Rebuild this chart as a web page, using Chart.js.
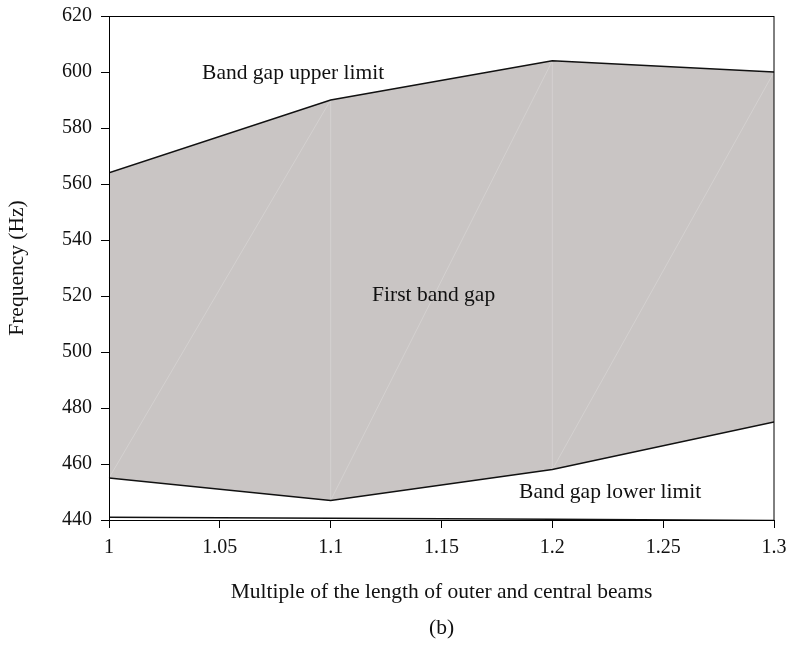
<!DOCTYPE html>
<html>
<head>
<meta charset="utf-8">
<script src="https://cdn.jsdelivr.net/npm/chart.js@4/dist/chart.umd.min.js"></script>
<style>
  html, body { margin: 0; padding: 0; background: #fff; }
  #wrap { width: 787px; height: 645px; position: relative; }
</style>
</head>
<body>
<div id="wrap"><canvas id="bandChart"></canvas></div>
<script>
// data
const lengthMultiple = [1, 1.1, 1.2, 1.3];
const upperLimit = [564, 590, 604, 600];
const lowerLimit = [455, 447, 458, 475];
const bottomCurve = [441, 440.6, 440.3, 439.8];
const xTicks = [1, 1.05, 1.1, 1.15, 1.2, 1.25, 1.3];
const yTicks = [440, 460, 480, 500, 520, 540, 560, 580, 600, 620];

const FONT = "'Liberation Serif', 'Times New Roman', serif";
const fill = "#c9c5c4";

const pts = (ys) => lengthMultiple.map((x, i) => ({ x: x, y: ys[i] }));

// text placed on the plot in data coordinates
const notes = [
    { text: "Band gap upper limit", x: 1.042, y: 599.5 },
    { text: "First band gap", x: 1.1187, y: 520.4 },
    { text: "Band gap lower limit", x: 1.185, y: 450 },
];

const decor = {
    id: "decor",
    beforeDatasetsDraw(chart) {
        // faint triangulation seams inside the shaded band (fill is already drawn)
        const { ctx, scales: { x, y } } = chart;
        ctx.save();
        ctx.strokeStyle = "#d4d1d0";
        ctx.lineWidth = 1;
        ctx.beginPath();
        for (let i = 0; i < lengthMultiple.length - 1; i++) {
            ctx.moveTo(x.getPixelForValue(lengthMultiple[i]), y.getPixelForValue(lowerLimit[i]));
            ctx.lineTo(x.getPixelForValue(lengthMultiple[i + 1]), y.getPixelForValue(upperLimit[i + 1]));
            if (i > 0) {
                ctx.moveTo(x.getPixelForValue(lengthMultiple[i]), y.getPixelForValue(lowerLimit[i]));
                ctx.lineTo(x.getPixelForValue(lengthMultiple[i]), y.getPixelForValue(upperLimit[i]));
            }
        }
        ctx.stroke();
        ctx.restore();
    },
    afterDraw(chart) {
        const { ctx, chartArea: a, scales: { x, y } } = chart;
        ctx.save();
        ctx.strokeStyle = "#000";
        ctx.lineWidth = 1;
        ctx.strokeRect(a.left + 0.5, a.top + 0.5, a.right - a.left - 0.5, a.bottom - a.top);

        ctx.fillStyle = "#111";
        ctx.font = "21.5px " + FONT;
        ctx.textBaseline = "middle";
        ctx.textAlign = "left";
        notes.forEach(n => ctx.fillText(n.text, x.getPixelForValue(n.x), y.getPixelForValue(n.y)));

        ctx.textAlign = "center";
        ctx.fillText("Multiple of the length of outer and central beams", (a.left + a.right) / 2, 592);
        ctx.fillText("(b)", (a.left + a.right) / 2, 628);

        ctx.translate(17, (a.top + a.bottom) / 2);
        ctx.rotate(-Math.PI / 2);
        ctx.fillText("Frequency (Hz)", 0, 0);
        ctx.restore();
    },
};

new Chart(document.getElementById("bandChart"), {
    type: "line",
    data: {
        datasets: [
            {
                data: pts(upperLimit),
                borderColor: "#111",
                borderWidth: 1.5,
                backgroundColor: fill,
                fill: "+1",
                pointRadius: 0,
                tension: 0,
            },
            {
                data: pts(lowerLimit),
                borderColor: "#111",
                borderWidth: 1.5,
                fill: false,
                pointRadius: 0,
                tension: 0,
            },
            {
                data: pts(bottomCurve),
                borderColor: "#111",
                borderWidth: 1.5,
                fill: false,
                pointRadius: 0,
                tension: 0,
            },
        ],
    },
    options: {
        responsive: true,
        maintainAspectRatio: false,
        animation: false,
        layout: { padding: { top: 16, right: 13, left: 0, bottom: 0 } },
        plugins: {
            legend: { display: false },
            tooltip: { enabled: false },
            filler: { drawTime: "beforeDatasetsDraw" },
        },
        scales: {
            x: {
                type: "linear",
                min: 1,
                max: 1.3,
                afterBuildTicks: (s) => { s.ticks = xTicks.map(v => ({ value: v })); },
                afterFit: (s) => { s.height = 125; s.paddingLeft = 0; s.paddingRight = 0; },
                ticks: {
                    color: "#111",
                    font: { family: FONT, size: 20 },
                    padding: 8,
                    maxRotation: 0,
                    callback: (v) => String(Math.round(v * 100) / 100),
                },
                grid: { drawOnChartArea: false, tickLength: 8, color: "#000" },
                border: { color: "#000" },
            },
            y: {
                min: 440,
                max: 620,
                afterBuildTicks: (s) => { s.ticks = yTicks.map(v => ({ value: v })); },
                afterFit: (s) => { s.width = 109; s.paddingTop = 0; s.paddingBottom = 0; },
                ticks: {
                    color: "#111",
                    font: { family: FONT, size: 20 },
                    padding: 9,
                },
                grid: { drawOnChartArea: false, tickLength: 8, color: "#000" },
                border: { color: "#000" },
            },
        },
    },
    plugins: [decor],
});
</script>
</body>
</html>
